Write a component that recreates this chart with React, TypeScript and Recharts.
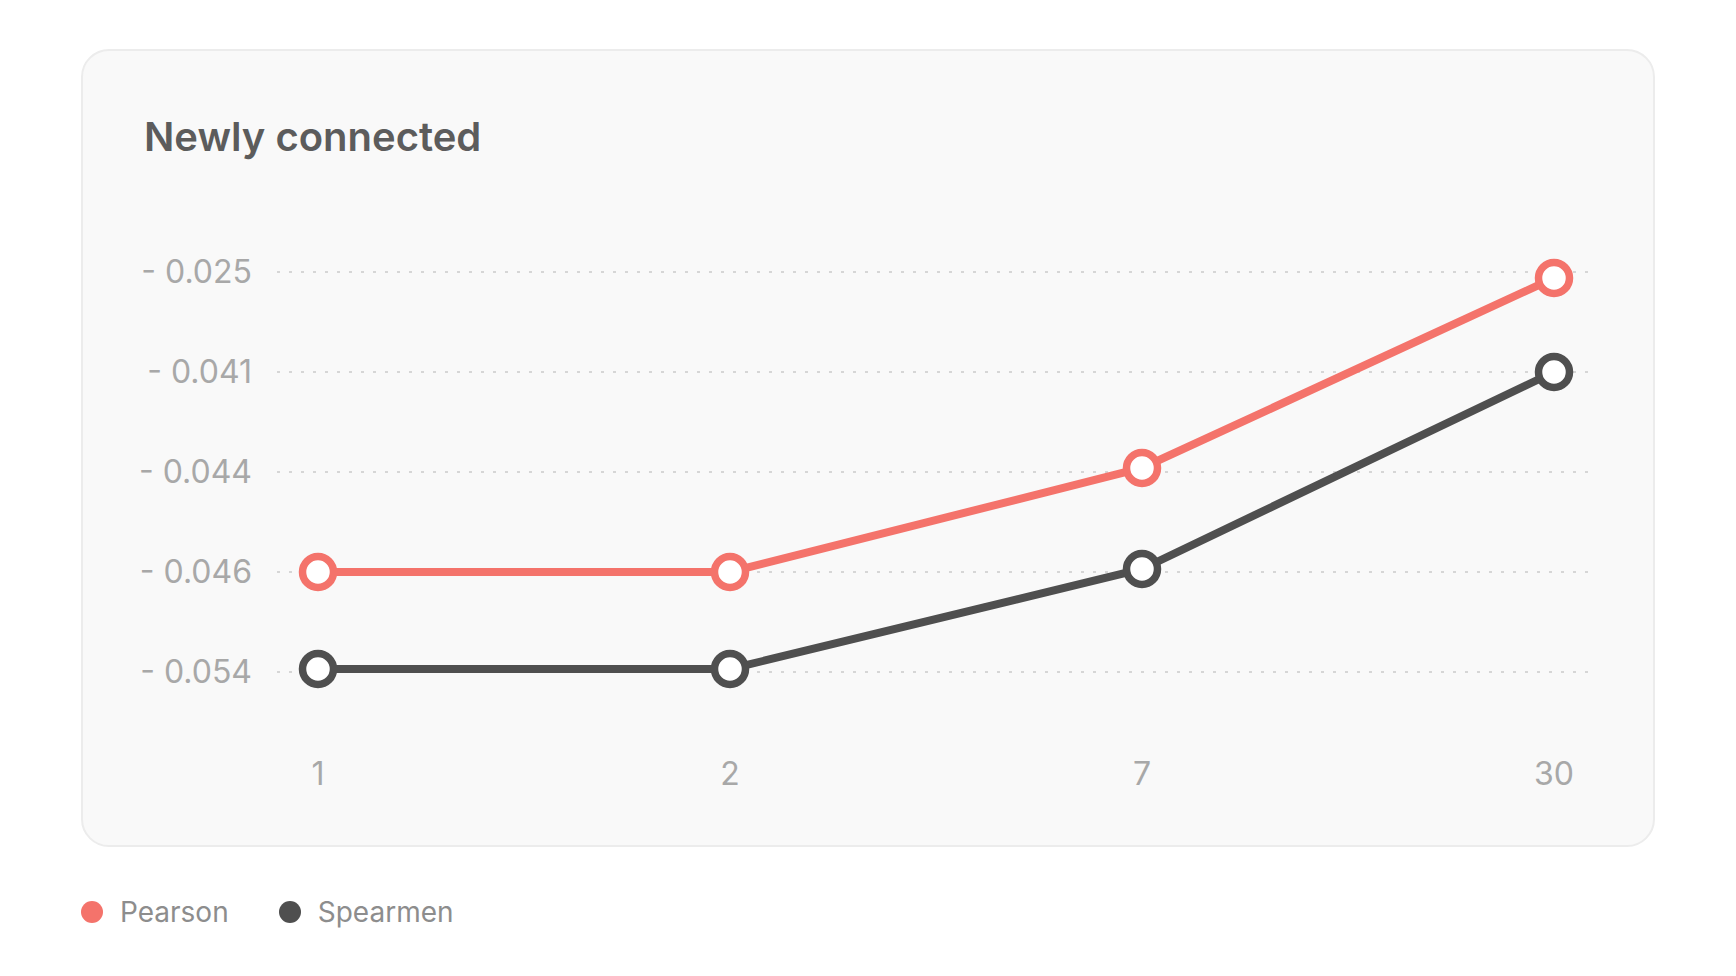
import { LineChart, Line, CartesianGrid, XAxis, YAxis } from "recharts";

// x categories (days)
const periods = ["1", "2", "7", "30"];
// y axis is evenly spaced rank positions with these labels (bottom -> top)
const yLabels = ["- 0.054", "- 0.046", "- 0.044", "- 0.041", "- 0.025"];
const yTicks = [0, 1, 2, 3, 4];
// values in y-axis tick units
const pearson = [1.0, 1.0, 2.04, 3.94];
const spearmen = [0.03, 0.03, 1.03, 3.0];

const series = [
  { key: "pearson", name: "Pearson", color: "#f4736b" },
  { key: "spearmen", name: "Spearmen", color: "#4f4f4f" },
];

const data = periods.map((p, i) => ({
  period: p,
  pearson: pearson[i],
  spearmen: spearmen[i],
}));

export default function App() {
  return (
    <div
      style={{
        position: "relative",
        width: 1720,
        height: 960,
        fontFamily: "Inter, 'Noto Sans', sans-serif",
      }}
    >
      <div
        style={{
          position: "absolute",
          left: 73,
          top: 41,
          width: 1574,
          height: 798,
          boxSizing: "border-box",
          border: "2px solid #ececec",
          borderRadius: 28,
          background: "#f9f9f9",
        }}
      />
      <div
        style={{
          position: "absolute",
          left: 136,
          top: 109,
          fontSize: 40,
          lineHeight: "40px",
          fontWeight: 600,
          color: "#5c5c5c",
        }}
      >
        Newly connected
      </div>

      <div style={{ position: "absolute", left: 73, top: 244 }}>
        <LineChart
          width={1574}
          height={560}
          data={data}
          margin={{ top: 20, right: 63, bottom: 0, left: 0 }}
        >
          <CartesianGrid
            vertical={false}
            stroke="#d6d6d6"
            strokeWidth={2}
            strokeDasharray="3 9"
          />
          <XAxis
            dataKey="period"
            scale="point"
            padding={{ left: 41, right: 38 }}
            axisLine={false}
            tickLine={false}
            tickSize={0}
            tickMargin={90}
            height={140}
            tick={{ fill: "#a8a8a8", fontSize: 32 }}
          />
          <YAxis
            type="number"
            domain={[0, 4]}
            ticks={yTicks}
            interval={0}
            width={196}
            axisLine={false}
            tickLine={false}
            tickSize={0}
            tickMargin={25}
            tickFormatter={(v) => yLabels[v] ?? ""}
            tick={{ fill: "#a8a8a8", fontSize: 32 }}
          />
          {series.map((s) => (
            <Line
              key={s.key}
              dataKey={s.key}
              name={s.name}
              type="linear"
              stroke={s.color}
              strokeWidth={8}
              dot={{ r: 15.5, fill: "#ffffff", stroke: s.color, strokeWidth: 7.5 }}
              activeDot={false}
              isAnimationActive={false}
            />
          ))}
        </LineChart>
      </div>

      <div
        style={{
          position: "absolute",
          left: 73,
          top: 886,
          display: "flex",
          alignItems: "center",
          height: 36,
        }}
      >
        {series.map((s) => (
          <div
            key={s.key}
            style={{ display: "flex", alignItems: "center", marginRight: 50 }}
          >
            <span
              style={{
                display: "inline-block",
                width: 22,
                height: 22,
                borderRadius: "50%",
                background: s.color,
                marginRight: 17,
              }}
            />
            <span style={{ fontSize: 28, color: "#8d8d8d" }}>{s.name}</span>
          </div>
        ))}
      </div>
    </div>
  );
}
